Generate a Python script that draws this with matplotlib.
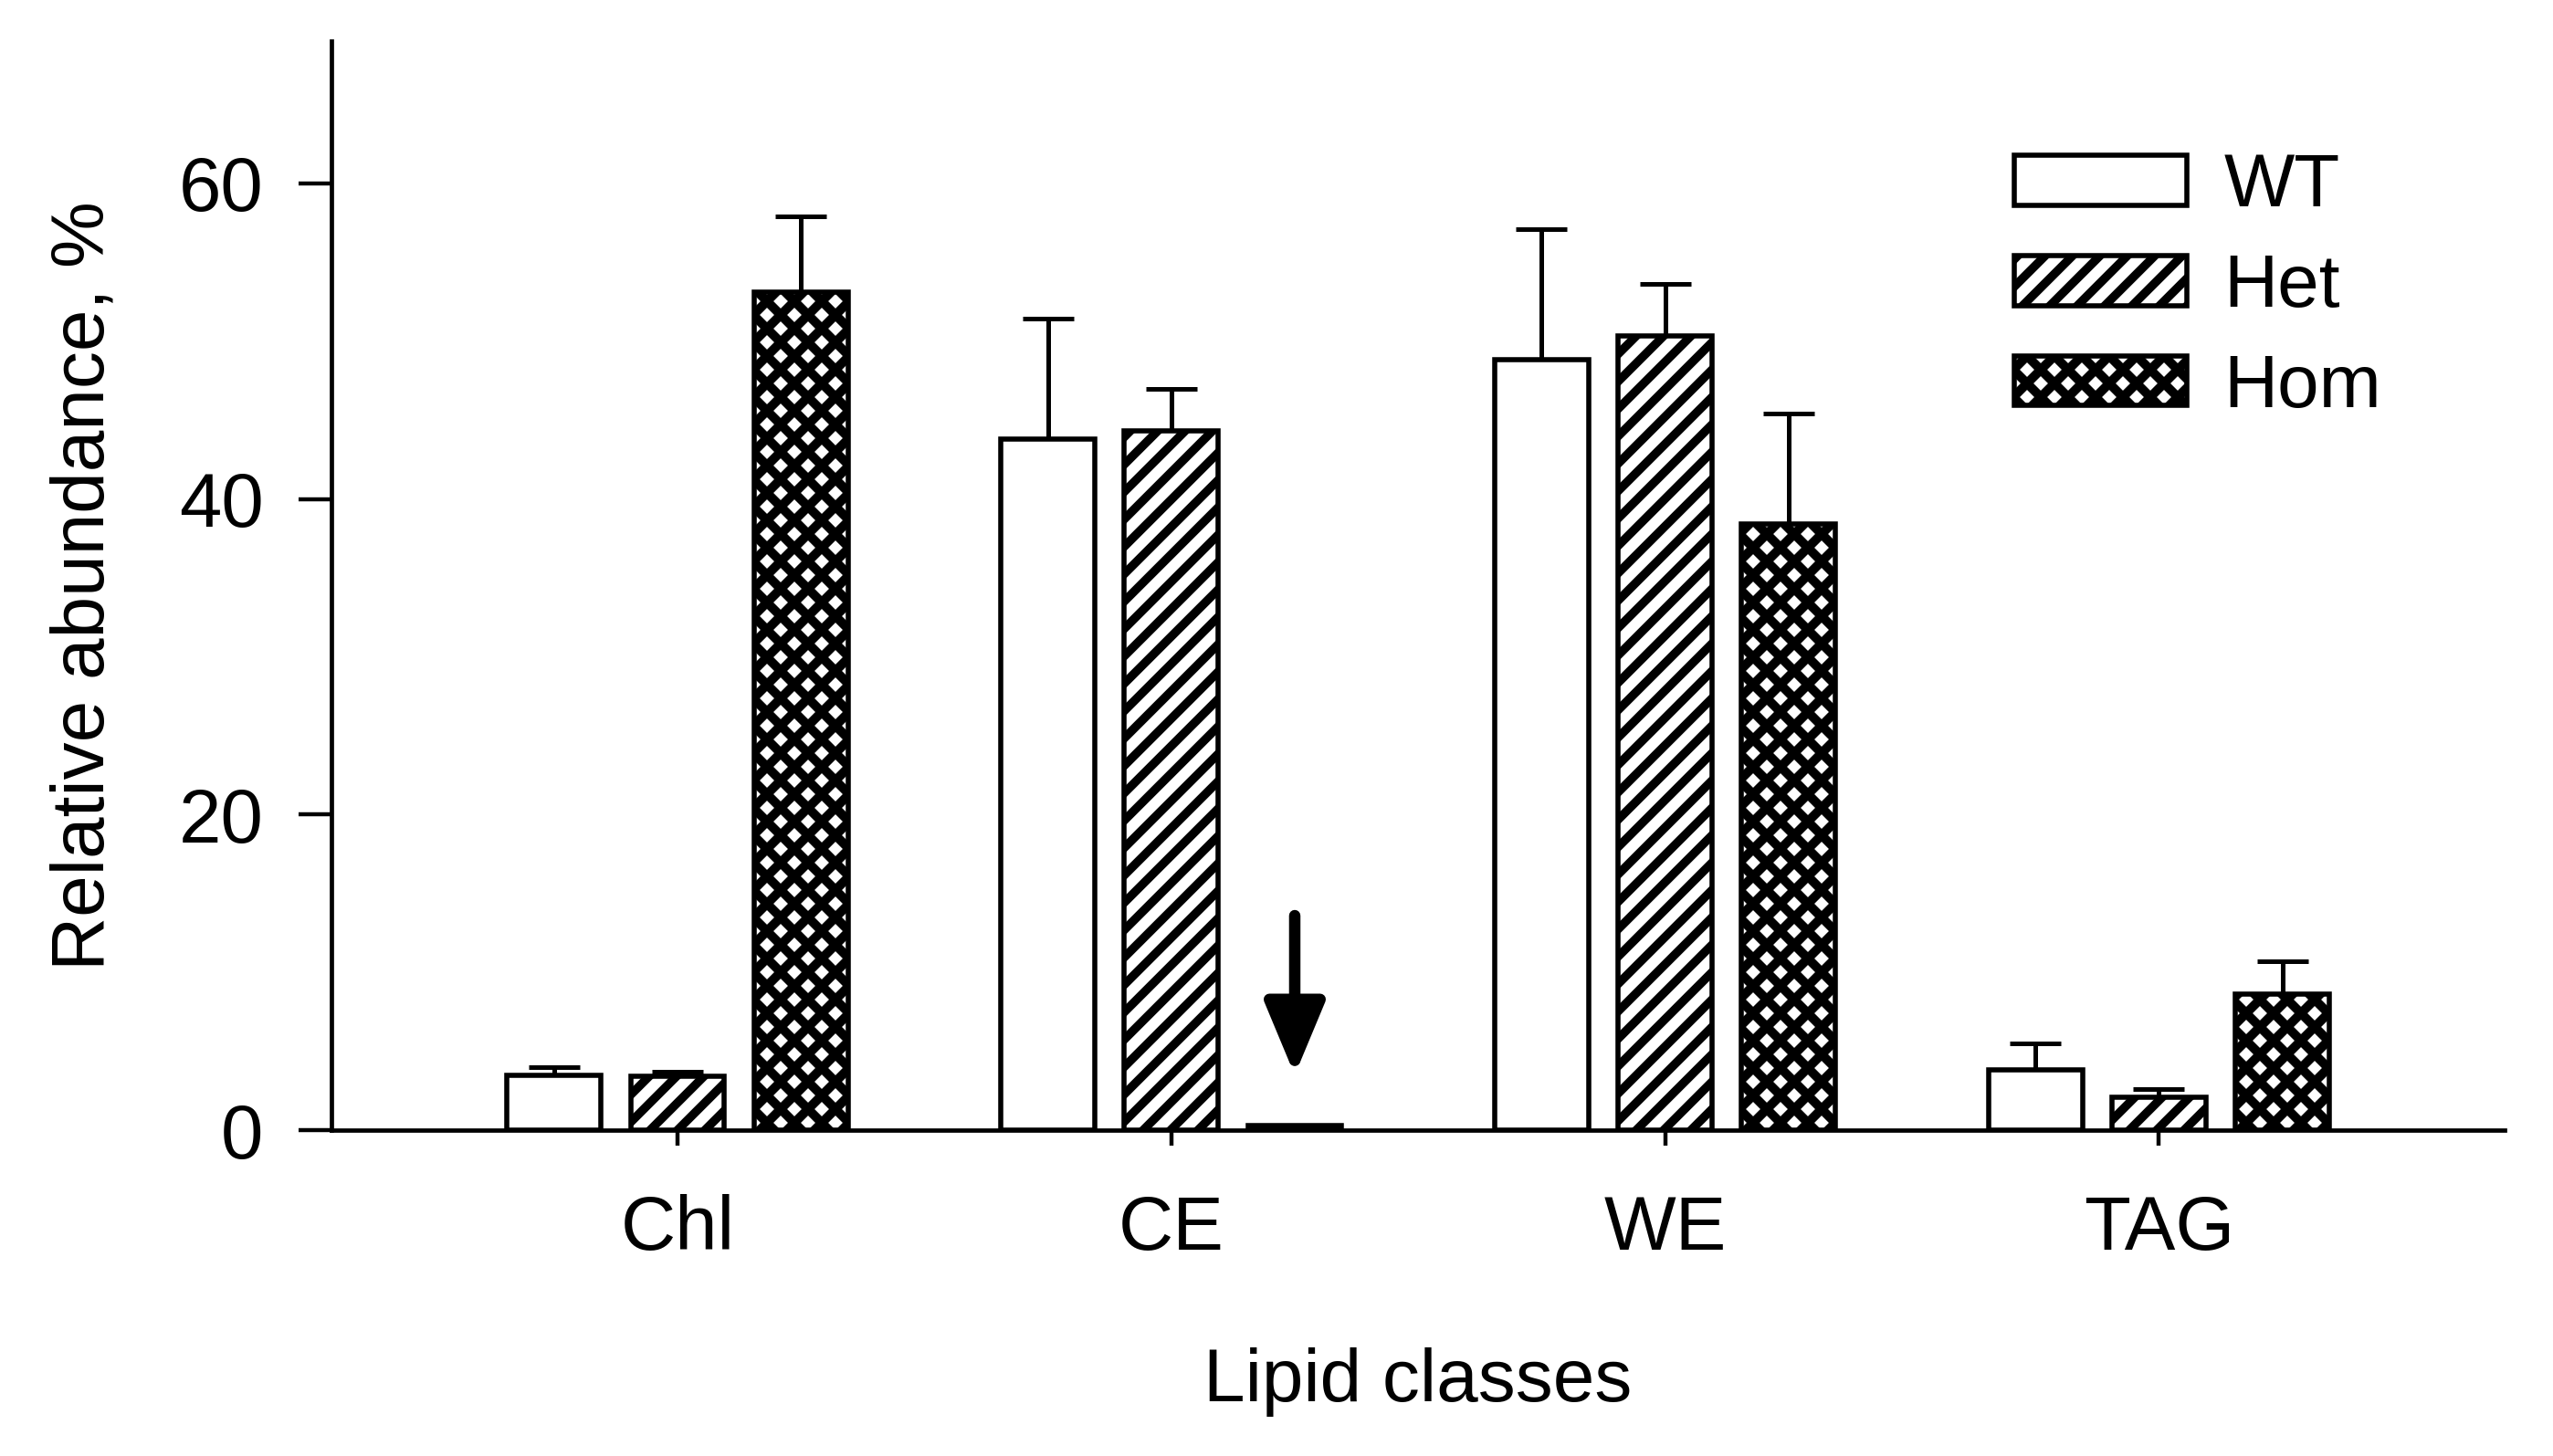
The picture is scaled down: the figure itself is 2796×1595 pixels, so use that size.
import matplotlib
matplotlib.use("Agg")
import matplotlib.pyplot as plt
import numpy as np

categories = ["Chl", "CE", "WE", "TAG"]
groups = ["WT", "Het", "Hom"]
wt_vals = [3.5, 43.8, 48.8, 3.8]
wt_err = [0.5, 7.6, 8.3, 1.7]
het_vals = [3.4, 44.3, 50.3, 2.1]
het_err = [0.3, 2.7, 3.3, 0.5]
hom_vals = [53.1, 0.3, 38.4, 8.6]
hom_err = [4.8, 0.0, 7.0, 2.1]
yticks = [0, 20, 40, 60]

plt.rcParams['font.family'] = ['Liberation Sans', 'DejaVu Sans']

DPI = 180
K = 200.0 / DPI  # sizes below were tuned for 200 dpi

fig = plt.figure(figsize=(2796 / DPI, 1595 / DPI), dpi=DPI)
ax = fig.add_axes([0.130, 0.2237, 0.851, 0.748])

x = np.arange(len(categories))
offsets = [-0.25, 0.0, 0.25]
width = 0.19
hatches = [None, '//', 'xx']
hatch_lw = [1.0, 3.8, 4.0]
series = [(wt_vals, wt_err), (het_vals, het_err), (hom_vals, hom_err)]

for (vals, errs), off, h, hlw, lab in zip(series, offsets, hatches, hatch_lw, groups):
    with plt.rc_context({'hatch.linewidth': hlw}):
        bars = ax.bar(x + off, vals, width, color='white', edgecolor='black',
                      linewidth=2.0 * K, hatch=h, label=lab, zorder=2)
        for b in bars:
            try:
                b.set_hatch_linewidth(hlw)
            except AttributeError:
                pass
    ax.errorbar(x + off, vals, yerr=[np.zeros(len(errs)), errs], fmt='none',
                ecolor='black', elinewidth=1.8 * K, capsize=10 * K,
                capthick=1.8 * K, zorder=1)

# arrow marking the CE Hom bar
arrow_x = x[1] + offsets[2]
arrow_top = 13.6
arrow_tip = 3.5
ax.annotate('', xy=(arrow_x, arrow_tip), xytext=(arrow_x, arrow_top),
            arrowprops=dict(arrowstyle='-|>,head_length=2.4,head_width=1.0',
                            lw=4.5 * K, color='black', shrinkA=0, shrinkB=0,
                            mutation_scale=10 * K, joinstyle='round',
                            capstyle='round'))

ax.set_xlim(-0.7, 3.7)
ax.set_ylim(0, 69)
ax.set_yticks(yticks)
ax.set_xticks(x)
ax.set_xticklabels(categories)

for s in ['top', 'right']:
    ax.spines[s].set_visible(False)
for s in ['left', 'bottom']:
    ax.spines[s].set_linewidth(1.7 * K)

ax.tick_params(axis='y', length=13 * K, width=1.6 * K, pad=14 * K, labelsize=30 * K)
ax.tick_params(axis='x', length=6 * K, width=1.6 * K, pad=19 * K, labelsize=30 * K)

ax.set_ylabel("Relative abundance, %", fontsize=29.5 * K, labelpad=23.5 * K)
ax.set_xlabel("Lipid classes", fontsize=29.5 * K, labelpad=32.5 * K)

leg = ax.legend(loc='upper left', bbox_to_anchor=(0.789, 0.895),
                bbox_transform=fig.transFigure, frameon=False, fontsize=29.5 * K,
                handlelength=2.3, handleheight=0.65, handletextpad=0.5,
                labelspacing=0.41, borderpad=0, borderaxespad=0)
for hdl, hlw in zip(leg.legend_handles, hatch_lw):
    try:
        hdl.set_hatch_linewidth(hlw)
    except AttributeError:
        pass

fig.savefig("out.png", dpi=DPI)
